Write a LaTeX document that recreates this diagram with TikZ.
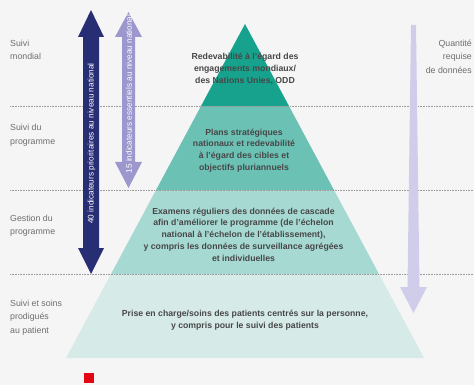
\documentclass[tikz,border=0pt]{standalone}
\usepackage{fontspec}
\setmainfont{Liberation Sans}
\definecolor{bgcol}{HTML}{F5F5F5}
\definecolor{tealA}{HTML}{16A28C}
\definecolor{tealB}{HTML}{6CC1B5}
\definecolor{tealC}{HTML}{A6D9D2}
\definecolor{tealD}{HTML}{D6EBE8}
\definecolor{navy}{HTML}{272E74}
\definecolor{lilac}{HTML}{9C97CC}
\definecolor{lilacpale}{HTML}{CFCDE9}
\definecolor{bodytext}{HTML}{474747}
\definecolor{sidetext}{HTML}{6E6E6E}
\definecolor{dotcol}{HTML}{9A9A9A}
\definecolor{marker}{HTML}{E30613}
\begin{document}
\begin{tikzpicture}[x=1pt,y=-1pt,
  bandtext/.style={text=bodytext, align=center, inner sep=0pt,
    font=\bfseries\fontsize{8.7}{11.8}\selectfont},
  sidelabel/.style={text=sidetext, align=left, anchor=north west, inner sep=0pt,
    font=\fontsize{8.8}{13.6}\selectfont},
  arrowtext/.style={text=white, rotate=90, inner sep=0pt,
    font=\fontsize{8.2}{9}\selectfont},
  levelline/.style={dotcol, line width=0.6pt, dash pattern=on 0.8pt off 0.8pt}]

% canvas
\fill[bgcol] (0,0) rectangle (474,385);
\useasboundingbox (0,0) rectangle (474,385);

% pyramid, four bands
\begin{scope}
  \clip (245,24) -- (424,358) -- (66,358) -- cycle;
  \fill[tealA] (0,0)   rectangle (474,106);
  \fill[tealB] (0,106) rectangle (474,190);
  \fill[tealC] (0,190) rectangle (474,274);
  \fill[tealD] (0,274) rectangle (474,360);
\end{scope}

% level separators
\draw[levelline] (10,106) -- (474,106);
\draw[levelline] (10,190) -- (474,190);
\draw[levelline] (10,274) -- (474,274);

% 40 priority indicators: up/down arrow
\fill[navy] (91,10) -- (104,37) -- (99,37) -- (99,248) -- (104,248) -- (91,274)
  -- (78,248) -- (83,248) -- (83,37) -- (78,37) -- cycle;
\node[arrowtext] (nav) at (91.5,143.5) {40 indicateurs prioritaires au niveau national};

% 15 core indicators: up/down arrow
\fill[lilac] (128.5,12) -- (142,37) -- (135,37) -- (135,162) -- (142,162) -- (128.5,188)
  -- (115,162) -- (122,162) -- (122,37) -- (115,37) -- cycle;
\node[arrowtext] (lil) at (129,94) {15 indicateurs essentiels au niveau national};

% required data volume: widening arrow
\fill[lilacpale] (411,25) -- (416,25) -- (419.5,287) -- (427,287) -- (413.5,313)
  -- (400,287) -- (407.5,287) -- cycle;

% level labels
\node[sidelabel] (l1) at (10,39.5) {Suivi\\mondial};
\node[sidelabel] (l2) at (10,124) {Suivi du\\programme};
\node[sidelabel] (l3) at (10,214.5) {Gestion du\\programme};
\node[sidelabel] (l4) at (10,299.5) {Suivi et soins\\prodigués\\au patient};
\node[text=sidetext, align=right, anchor=north east, inner sep=0pt,
  font=\fontsize{8.8}{13.6}\selectfont] (qty) at (472,39.5) {Quantité\\requise\\de données};

% band contents
\node[bandtext] (b1) at (245,69) {Redevabilité à l’égard des\\engagements mondiaux/\\des Nations Unies, ODD};
\node[bandtext] (b2) at (244,150.5) {Plans stratégiques\\nationaux et redevabilité\\à l’égard des cibles et\\objectifs pluriannuels};
\node[bandtext] (b3) at (243.5,234.5) {Examens réguliers des données de cascade\\afin d’améliorer le programme (de l’échelon\\national à l’échelon de l’établissement),\\y compris les données de surveillance agrégées\\et individuelles};
\node[bandtext] (b4) at (245,320.5) {Prise en charge/soins des patients centrés sur la personne,\\y compris pour le suivi des patients};

% marker
\fill[marker] (84,373) rectangle (94,383);
\end{tikzpicture}
\end{document}
